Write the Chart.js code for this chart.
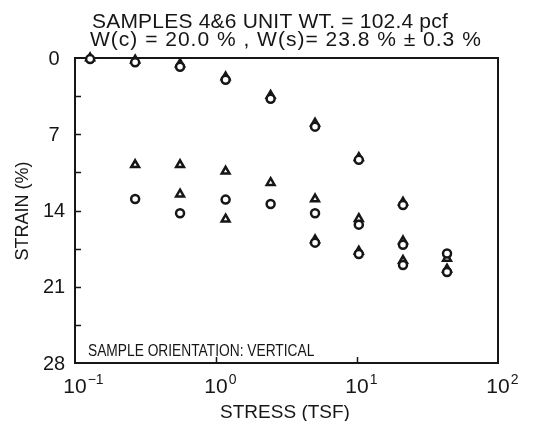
<!DOCTYPE html>
<html>
<head>
<meta charset="utf-8">
<script src="https://cdn.jsdelivr.net/npm/chart.js@4.4.0/dist/chart.umd.min.js"></script>
<style>
  html, body { margin: 0; padding: 0; background: #fff; }
  #wrap { width: 548px; height: 421px; }
</style>
</head>
<body>
<div id="wrap"><canvas id="chart" width="548" height="421"></canvas></div>
<script>
// stress (TSF) of each load step
const loadStress = [0.128, 0.267, 0.556, 1.17, 2.44, 5.04, 10.3, 21.2, 43.5];
const loadStrainCircle = [0.1, 0.4, 0.8, 2.0, 3.75, 6.3, 9.35, 13.5, 19.65];
const loadStrainTriangle = [0.0, 0.2, 0.55, 1.75, 3.45, 6.0, 9.15, 13.25, 19.4];

const reloadStress = [0.267, 0.556, 1.17, 2.44, 5.04, 10.3, 21.2, 43.5];
const reloadStrainCircle = [12.95, 14.25, 13.0, 13.4, 14.25, 15.3, 17.15, 17.95];
const reloadStrainTriangle = [9.8, 9.8, 10.4, 11.45, 12.95, 14.75, 16.8, 18.4];

const extraStress = [0.556, 1.17];
const extraStrainTriangle = [12.5, 14.8];

const unloadStress = [5.04, 10.3, 21.2];
const unloadStrainCircle = [16.95, 18.0, 19.0];
const unloadStrainTriangle = [16.7, 17.75, 18.6];

const strainTicks = [0, 7, 14, 21, 28];
const stressTicks = [0.1, 1, 10, 100];
const stressExp = ["\u22121", "0", "1", "2"];

const titleLines = [
  "SAMPLES 4&6 UNIT WT. = 102.4 pcf",
  "W(c) = 20.0 % , W(s)= 23.8 % \u00b1 0.3 %"
];
const noteText = "SAMPLE ORIENTATION: VERTICAL";

const ink = "#161616";
const font = "'Liberation Sans', Arial, sans-serif";

function pts(xs, ys) {
  return xs.map((x, i) => ({ x: x, y: ys[i] }));
}

function marker(label, data, style) {
  return {
    label: label,
    data: data,
    pointStyle: style,
    pointRadius: style == "triangle" ? 4.5 : 4,
    borderWidth: 2.5,
    borderColor: ink,
    backgroundColor: "#fff",
    showLine: false,
    clip: false,
  };
}

// frame + inward ticks, drawn under the markers
const framePlugin = {
  id: "frame",
  beforeDatasetsDraw(chart) {
    const ctx = chart.ctx;
    const a = chart.chartArea;
    const x = chart.scales.x;
    const y = chart.scales.y;
    ctx.save();
    ctx.strokeStyle = ink;
    ctx.lineWidth = 2;
    ctx.strokeRect(a.left, a.top, a.right - a.left, a.bottom - a.top);
    ctx.lineWidth = 1.5;
    ctx.beginPath();
    for (let v = 3.5; v < 28; v += 3.5) {
      const py = Math.round(y.getPixelForValue(v)) + 0.5;
      ctx.moveTo(a.left, py);
      ctx.lineTo(a.left + 6, py);
    }
    [1, 10].forEach((v) => {
      const px = Math.round(x.getPixelForValue(v)) + 0.5;
      ctx.moveTo(px, a.bottom);
      ctx.lineTo(px, a.bottom - 6);
    });
    ctx.stroke();
    ctx.restore();
  },
  afterDraw(chart) {
    const ctx = chart.ctx;
    const x = chart.scales.x;
    const y = chart.scales.y;
    ctx.save();
    ctx.fillStyle = ink;

    // title lines
    ctx.font = "21px " + font;
    ctx.textAlign = "left";
    ctx.textBaseline = "alphabetic";
    ctx.letterSpacing = "0.2px";
    ctx.fillText(titleLines[0], 92, 28);
    ctx.letterSpacing = "1px";
    ctx.fillText(titleLines[1], 90, 46);
    ctx.letterSpacing = "0px";

    // y tick labels
    ctx.font = "20px " + font;
    ctx.textAlign = "center";
    ctx.textBaseline = "middle";
    strainTicks.forEach((v) => {
      ctx.fillText(String(v), 54, y.getPixelForValue(v) + 1);
    });

    // x tick labels with superscript exponent
    stressTicks.forEach((v, i) => {
      const px = x.getPixelForValue(v);
      ctx.font = "21px " + font;
      ctx.textAlign = "center";
      ctx.textBaseline = "alphabetic";
      ctx.fillText("10", px, 393);
      const w = ctx.measureText("10").width;
      ctx.font = "14px " + font;
      ctx.textAlign = "left";
      ctx.fillText(stressExp[i], px + w / 2 + 1, 384);
    });

    // axis titles
    ctx.font = "19px " + font;
    ctx.textAlign = "center";
    ctx.fillText("STRESS (TSF)", 285, 418);
    ctx.save();
    ctx.translate(28, 211);
    ctx.rotate(-Math.PI / 2);
    ctx.font = "18px " + font;
    ctx.fillText("STRAIN (%)", 0, 0);
    ctx.restore();

    // note inside the plot, a bit condensed like the plotter font
    ctx.save();
    ctx.translate(88, 356);
    ctx.scale(0.86, 1);
    ctx.font = "16px " + font;
    ctx.textAlign = "left";
    ctx.fillText(noteText, 0, 0);
    ctx.restore();
    ctx.restore();
  },
};

const config = {
  type: "scatter",
  data: {
    datasets: [
      marker("load circle", pts(loadStress, loadStrainCircle), "circle"),
      marker("load triangle", pts(loadStress, loadStrainTriangle), "triangle"),
      marker("reload circle", pts(reloadStress, reloadStrainCircle), "circle"),
      marker("reload triangle", pts(reloadStress, reloadStrainTriangle), "triangle"),
      marker("extra triangle", pts(extraStress, extraStrainTriangle), "triangle"),
      marker("unload circle", pts(unloadStress, unloadStrainCircle), "circle"),
      marker("unload triangle", pts(unloadStress, unloadStrainTriangle), "triangle"),
    ],
  },
  options: {
    responsive: false,
    animation: false,
    layout: { padding: { left: 75, top: 58, right: 50, bottom: 58 } },
    plugins: {
      legend: { display: false },
      tooltip: { enabled: false },
    },
    scales: {
      x: { type: "logarithmic", min: 0.1, max: 100, display: false },
      y: { type: "linear", min: 0, max: 28, reverse: true, display: false },
    },
  },
  plugins: [framePlugin],
};

const myChart = new Chart(document.querySelector("#chart"), config);
</script>
</body>
</html>
